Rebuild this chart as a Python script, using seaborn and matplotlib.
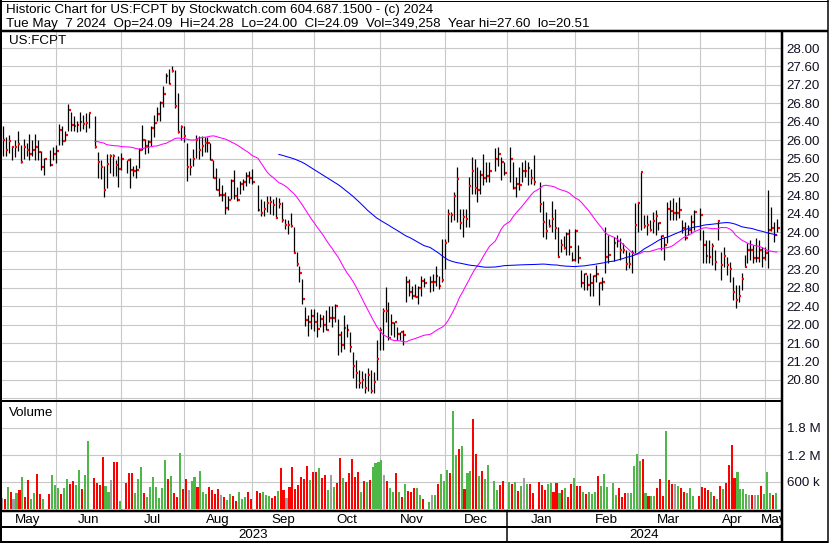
import numpy as np
import pandas as pd
import matplotlib
matplotlib.use("Agg")
import matplotlib.pyplot as plt
import seaborn as sns
from matplotlib.lines import Line2D

# ---------------- data ----------------
first_day = "2023-05-05"
last_day = "2024-05-07"
holidays = ["2023-05-29", "2023-06-19", "2023-07-04", "2023-09-04", "2023-11-23",
            "2023-12-25", "2024-01-01", "2024-01-15", "2024-02-19", "2024-03-29"]

high = [
    26.20, 26.30, 26.08, 26.12, 25.88, 26.01, 26.19, 25.90, 26.03, 25.94, 26.14, 26.01, 26.13, 26.01, 25.76, 25.61,
    25.78, 25.85, 25.89, 26.36, 26.30, 26.21, 26.78, 26.62, 26.52, 26.41, 26.62, 26.54, 26.59, 26.59,
    26.53, 25.74, 25.58, 25.43, 25.69, 25.69, 25.69, 25.58, 25.65, 25.72,
    25.58, 25.61, 25.43, 25.47, 25.83, 26.34, 26.03, 26.01, 26.30, 26.55, 26.73, 26.84, 27.17, 27.46, 27.55,
    27.60, 27.53, 27.02, 26.34, 26.30, 25.93, 25.62, 25.81, 26.11, 26.10, 26.10, 26.08, 26.08, 25.94, 25.56,
    25.39, 25.19, 25.03, 24.88, 24.78, 25.16, 25.36, 24.98, 25.12, 25.16, 25.32, 25.34, 25.37,
    25.03, 24.73, 24.69, 24.78, 24.80, 24.73, 24.76, 24.75, 24.65, 24.29, 24.26, 24.41, 24.11,
    23.57, 23.28, 22.99, 22.38, 22.20, 22.34, 22.34, 22.27, 22.23, 22.20, 22.31, 22.41, 22.41, 22.45,
    22.12, 21.87, 22.20, 22.02, 21.84, 21.40, 21.23, 21.02, 21.00, 20.94, 21.05, 21.02, 20.98, 21.67,
    21.95, 22.35, 22.82, 22.50, 22.24, 22.06, 21.95, 21.85, 21.88,
    23.06, 22.99, 22.84, 22.88, 22.84, 23.06, 23.02,
    23.06, 23.10, 23.28, 23.06, 23.86, 23.86, 24.51, 24.44, 24.87, 25.42, 24.51, 24.51, 24.51, 25.20, 25.63,
    25.60, 25.42, 25.35, 25.71, 25.53, 25.53,
    25.82, 25.85, 25.63, 25.53,
    25.85, 25.53, 25.20, 25.42, 25.53, 25.56, 25.53, 25.38, 25.67,
    25.09, 24.69, 24.44, 24.29, 24.69, 24.51, 24.11, 23.86, 23.93, 24.00, 24.08, 23.57, 24.08, 23.73, 23.18,
    23.11, 23.08, 23.11, 23.08, 23.29, 22.93, 23.04, 24.12, 23.94,
    23.91, 23.94, 23.87, 23.76, 23.62, 23.58, 23.62, 24.63, 24.67, 25.32, 24.38, 24.38, 24.27, 24.45, 24.49,
    24.23, 23.94, 23.91, 24.67, 24.70, 24.74, 24.67, 24.77, 24.27, 24.23, 24.16, 24.38, 24.49,
    24.52, 24.05, 23.83, 23.83, 23.76, 23.62, 24.27, 23.58, 23.69, 23.47, 23.36, 23.04, 22.86, 22.86, 23.11,
    23.51, 23.76, 23.83, 23.73, 23.87, 23.83, 23.69, 23.69, 24.92, 24.56, 24.23, 24.28,
]
low = [
    25.80, 25.65, 25.65, 25.72, 25.58, 25.64, 25.76, 25.51, 25.60, 25.65, 25.58, 25.65, 25.58, 25.58, 25.36, 25.24,
    25.45, 25.56, 25.51, 25.90, 25.90, 25.98, 26.21, 26.19, 26.19, 26.17, 26.19, 26.25, 26.17, 26.26,
    25.84, 25.18, 25.15, 24.77, 24.96, 25.29, 25.22, 25.22, 24.98, 25.36,
    25.29, 24.96, 25.22, 25.18, 25.40, 25.79, 25.71, 25.72, 25.87, 26.08, 26.41, 26.41, 26.73, 27.24, 27.22,
    27.49, 26.70, 26.16, 26.01, 25.97, 25.11, 25.25, 25.45, 25.61, 25.59, 25.66, 25.74, 25.74, 25.56, 25.17,
    24.91, 24.80, 24.69, 24.39, 24.49, 24.72, 24.73, 24.69, 24.83, 24.91, 25.01, 25.07, 25.05,
    24.47, 24.36, 24.36, 24.44, 24.40, 24.38, 24.31, 24.54, 24.23, 24.08, 23.97, 24.11, 23.56,
    23.28, 22.92, 22.45, 21.98, 21.76, 21.91, 21.87, 21.73, 21.95, 21.84, 21.89, 22.05, 21.95, 22.05,
    21.33, 21.40, 21.48, 21.73, 21.40, 20.85, 20.62, 20.62, 20.62, 20.51, 20.55, 20.51, 20.51, 20.80,
    21.45, 21.45, 22.06, 21.67, 21.77, 21.74, 21.67, 21.67, 21.56,
    22.48, 22.63, 22.55, 22.59, 22.44, 22.63, 22.81,
    22.70, 22.73, 22.84, 22.77, 22.92, 23.21, 23.79, 24.22, 24.26, 24.22, 24.08, 23.89, 24.11, 24.11, 24.84,
    24.84, 24.66, 24.84, 25.02, 25.09, 25.09,
    25.34, 25.45, 25.13, 25.24,
    25.09, 24.95, 24.76, 24.91, 25.09, 25.20, 25.02, 25.05, 25.02,
    24.44, 23.89, 23.86, 24.11, 24.00, 23.86, 23.46, 23.57, 23.64, 23.50, 23.50, 23.39, 23.39, 23.33, 22.82,
    22.75, 22.75, 22.61, 22.61, 22.93, 22.43, 22.75, 23.11, 23.33,
    23.37, 23.69, 23.40, 23.55, 23.18, 23.22, 23.11, 23.55, 24.00, 24.05, 24.09, 23.94, 24.02, 23.98, 23.94,
    24.05, 23.62, 23.40, 23.76, 24.27, 24.27, 24.27, 24.31, 23.98, 23.83, 23.94, 23.98, 24.05,
    23.83, 23.33, 23.33, 23.33, 23.29, 23.18, 23.83, 22.97, 23.26, 23.08, 22.93, 22.53, 22.35, 22.50, 22.75,
    23.26, 23.33, 23.40, 23.33, 23.36, 23.36, 23.26, 23.40, 23.22, 24.02, 23.80, 24.00,
]
close = [
    26.01, 26.01, 25.78, 25.98, 25.85, 25.85, 25.91, 25.52, 25.85, 25.78, 25.69, 25.79, 25.85, 25.74, 25.41, 25.59,
    25.47, 25.69, 25.76, 26.23, 25.98, 26.12, 26.65, 26.34, 26.31, 26.34, 26.40, 26.35, 26.37, 26.59,
    25.85, 25.52, 25.41, 24.93, 25.49, 25.66, 25.66, 25.47, 25.38, 25.60,
    25.56, 25.35, 25.33, 25.36, 25.79, 26.01, 25.87, 25.96, 26.26, 26.37, 26.57, 26.81, 27.00, 27.40, 27.22,
    27.51, 26.75, 26.17, 26.28, 26.10, 25.42, 25.42, 25.59, 26.01, 25.79, 25.88, 25.93, 25.94, 25.56, 25.19,
    24.93, 24.82, 24.82, 24.53, 24.71, 25.12, 24.78, 24.71, 25.05, 25.10, 25.23, 25.17, 25.10,
    24.49, 24.41, 24.51, 24.64, 24.67, 24.59, 24.31, 24.62, 24.26, 24.15, 24.15, 24.13, 23.56,
    23.32, 23.12, 22.55, 22.10, 22.05, 22.18, 22.05, 21.91, 22.12, 22.00, 21.89, 22.15, 22.15, 22.41,
    21.78, 21.55, 21.92, 21.89, 21.51, 21.10, 20.96, 20.74, 20.80, 20.62, 20.91, 20.57, 20.76, 21.26,
    21.88, 22.30, 22.30, 21.72, 22.04, 22.06, 21.80, 21.83, 21.77,
    22.93, 22.70, 22.63, 22.60, 22.80, 22.95, 22.90,
    22.93, 22.93, 23.06, 22.84, 22.97, 23.77, 24.40, 24.37, 24.80, 25.15, 24.21, 24.34, 24.28, 25.00, 25.34,
    24.97, 24.91, 25.25, 25.18, 25.22, 25.34,
    25.60, 25.71, 25.52, 25.29,
    25.60, 24.97, 25.05, 25.02, 25.34, 25.34, 25.40, 25.18, 25.10,
    24.62, 24.23, 24.02, 24.13, 24.28, 24.09, 23.47, 23.73, 23.67, 23.97, 23.68, 23.41, 24.02, 23.45, 22.91,
    23.09, 22.86, 22.91, 23.05, 23.10, 22.90, 22.93, 23.47, 23.51,
    23.76, 23.82, 23.62, 23.61, 23.32, 23.32, 23.55, 24.15, 24.64, 25.30, 24.14, 24.16, 24.05, 24.25, 24.36,
    24.21, 23.92, 23.73, 24.51, 24.46, 24.43, 24.43, 24.49, 24.09, 23.88, 24.05, 24.23, 24.45,
    24.38, 23.73, 23.49, 23.47, 23.70, 23.36, 24.25, 23.29, 23.49, 23.29, 23.21, 22.71, 22.53, 22.63, 22.99,
    23.26, 23.62, 23.62, 23.44, 23.44, 23.62, 23.44, 23.55, 24.05, 24.10, 23.94, 24.09,
]
volume_m = [
    0.40, 0.25, 0.22, 0.49, 0.38, 0.22, 0.36, 0.42, 0.71, 0.27, 0.64, 0.22, 0.36, 0.78, 0.33, 0.22,
    0.33, 0.76, 0.53, 0.47, 0.33, 0.47, 0.67, 0.56, 0.62, 0.53, 0.87, 0.44, 0.76, 1.51,
    0.69, 0.58, 0.53, 1.16, 0.51, 0.38, 0.64, 1.04, 1.04, 0.18,
    0.58, 0.80, 0.80, 0.36, 0.67, 0.93, 0.36, 0.27, 0.49, 0.71, 0.49, 0.24, 0.47, 1.09, 0.67,
    0.73, 0.36, 0.27, 1.24, 0.44, 0.67, 0.42, 0.62, 0.71, 0.50, 0.84, 0.38, 0.33, 0.49, 0.42,
    0.33, 0.44, 0.31, 0.27, 0.20, 0.33, 0.29, 0.18, 0.38, 0.22, 0.27, 0.38, 0.22,
    0.40, 0.36, 0.38, 0.31, 0.29, 0.24, 0.29, 0.40, 0.91, 0.42, 0.24, 0.49, 0.93,
    0.44, 0.53, 0.71, 0.67, 0.96, 0.64, 0.82, 0.82, 0.91, 0.69, 0.76, 0.42, 0.76, 0.49,
    0.58, 1.13, 0.69, 0.60, 0.80, 1.11, 0.71, 0.82, 0.38, 0.62, 0.60, 0.64, 0.93, 1.02,
    1.04, 1.09, 0.76, 0.62, 0.47, 0.38, 0.80, 0.38, 0.27,
    0.56, 0.40, 0.38, 0.47, 0.47, 0.31, 0.22,
    0.16, 0.31, 0.31, 0.56, 0.78, 0.62, 0.87, 0.80, 2.18, 1.20, 1.33, 1.40, 0.44, 0.80, 0.84,
    2.00, 1.22, 0.73, 0.84, 0.67, 0.98,
    0.62, 0.42, 0.53, 0.62,
    0.60, 0.56, 0.60, 0.40, 0.51, 0.69, 0.56, 0.56, 0.36,
    0.60, 0.53, 0.42, 0.56, 0.58, 0.38, 0.58, 0.36, 0.42, 0.47, 0.27, 0.56, 0.69, 0.51, 0.51,
    0.38, 0.33, 0.38, 0.33, 0.38, 0.73, 0.51, 0.78, 0.49,
    0.57, 0.31, 0.47, 0.27, 0.36, 0.36, 0.36, 0.96, 1.22, 1.07, 1.11, 0.36, 0.29, 0.29, 0.29,
    0.47, 0.67, 0.29, 1.73, 0.64, 0.56, 0.56, 0.51, 0.47, 0.38, 0.36, 0.47, 0.29,
    0.29, 0.49, 0.47, 0.42, 0.38, 0.29, 0.22, 0.51, 0.44, 0.58, 0.98, 1.42, 0.69, 0.82, 0.44,
    0.44, 0.33, 0.31, 0.31, 0.31, 0.31, 0.51, 0.33, 0.82, 0.36, 0.31, 0.349258,
]
price_ticks = [20.80, 21.20, 21.60, 22.00, 22.40, 22.80, 23.20, 23.60, 24.00, 24.40,
               24.80, 25.20, 25.60, 26.00, 26.40, 26.80, 27.20, 27.60, 28.00]
price_grid = price_ticks + [20.40]
vol_ticks = [0.6, 1.2, 1.8]
vol_tick_labels = ["600 k", "1.2 M", "1.8 M"]
title_line1 = "Historic Chart for US:FCPT by Stockwatch.com 604.687.1500 - (c) 2024"
title_line2 = ("Tue May  7 2024  Op=24.09  Hi=24.28  Lo=24.00  Cl=24.09  "
               "Vol=349,258  Year hi=27.60  lo=20.51")
symbol = "US:FCPT"

# ---------------- frame ----------------
sns.set_theme(style="white")
plt.rcParams['font.family'] = ['Liberation Sans', 'DejaVu Sans']

GREEN, RED, GRAY = "#4db848", "#ff0000", "#a0a0a0"
GRIDC = "#c8c8c8"
FS = 9.6

slots = pd.bdate_range(first_day, last_day)
hol = pd.to_datetime(holidays)
trade_dates = slots[~slots.isin(hol)]
slot_pos = pd.Series(np.arange(len(slots)), index=slots)

df = pd.DataFrame({"date": trade_dates, "high": high, "low": low,
                   "close": close, "vol": volume_m})
df["slot"] = slot_pos.loc[trade_dates].values.astype(float)
df["ma_short"] = df["close"].rolling(30).mean().shift(1)
df["ma_long"] = df["close"].rolling(90).mean().shift(1)
chg = df["close"].diff().round(4).fillna(0)
df["vcol"] = np.where(chg > 0, GREEN, np.where(chg < 0, RED, GRAY))

W, H = 830, 543
PX0, PXS = -0.2, 2.967            # slot -> pixel mapping
XR = 781                           # right edge of plot panels
xlim = ((0 - PX0) / PXS, (XR - PX0) / PXS)

fig = plt.figure(figsize=(W / 100, H / 100), dpi=100)
fig.patch.set_facecolor("white")


def rect(x0, y0, x1, y1):
    return [x0 / W, 1 - y1 / H, (x1 - x0) / W, (y1 - y0) / H]


# month boundaries
month_start = [i for i in range(1, len(slots)) if slots[i].month != slots[i - 1].month]
bounds = [xlim[0]] + month_start + [xlim[1]]
month_centers = [(bounds[i] + bounds[i + 1]) / 2 for i in range(len(bounds) - 1)]
month_names = [slots[0].strftime("%b")] + [slots[i].strftime("%b") for i in month_start]
jan_slot = [i for i in month_start if slots[i].month == 1][0]

# ---------------- price panel ----------------
ax_p = fig.add_axes(rect(0, 32, XR, 400))
p_top = 28.0 + (48 - 32) / 46.1
p_bot = 28.0 - (400 - 48) / 46.1
ax_p.set_xlim(*xlim)
ax_p.set_ylim(p_bot, p_top)
for v in price_grid:
    ax_p.axhline(v, color=GRIDC, lw=0.8, zorder=0)
for s in month_start:
    ax_p.axvline(s, color=GRIDC, lw=0.8, zorder=0)

ax_p.vlines(df["slot"], df["low"], df["high"], color="black", lw=0.9, zorder=2)
ax_p.hlines(df["close"], df["slot"] + 0.2, df["slot"] + 0.85, color=RED, lw=1.6, zorder=3)
sns.lineplot(x=df["slot"], y=df["ma_short"], ax=ax_p, color="#ff00ff", lw=0.75,
             zorder=4, legend=False)
sns.lineplot(x=df["slot"], y=df["ma_long"], ax=ax_p, color="#0000ff", lw=0.75,
             zorder=4, legend=False)
ax_p.set_xlabel("")
ax_p.set_ylabel("")
ax_p.set_xticks([])
ax_p.yaxis.tick_right()
ax_p.set_yticks(price_ticks)
ax_p.set_yticklabels([f"{v:.2f}" for v in price_ticks])
ax_p.tick_params(axis="y", length=0, pad=4.2, labelsize=FS, labelcolor="#111122")
for sp in ax_p.spines.values():
    sp.set_visible(False)
ax_p.text(9 / XR, 1 - (41.5 - 32) / 368, symbol, transform=ax_p.transAxes,
          fontsize=FS, va="center", ha="left", color="black")

# ---------------- volume panel ----------------
ax_v = fig.add_axes(rect(0, 402, XR, 510))
v_per_px = 1.8 / (509 - 428)
ax_v.set_xlim(*xlim)
ax_v.set_ylim(-(510 - 509) * v_per_px, (509 - 402) * v_per_px)
for v in vol_ticks:
    ax_v.axhline(v, color=GRIDC, lw=0.8, zorder=0)
for s in month_start:
    ax_v.axvline(s, color=GRIDC, lw=0.8, zorder=0)
ax_v.bar(df["slot"] - 0.37, df["vol"], width=0.7, bottom=0, color=df["vcol"],
         linewidth=0, zorder=2)
ax_v.set_xticks([])
ax_v.yaxis.tick_right()
ax_v.set_yticks(vol_ticks)
ax_v.set_yticklabels(vol_tick_labels)
ax_v.tick_params(axis="y", length=0, pad=4.2, labelsize=FS, labelcolor="#111122")
for sp in ax_v.spines.values():
    sp.set_visible(False)
ax_v.text(9 / XR, 1 - (413 - 402) / 108, "Volume", transform=ax_v.transAxes,
          fontsize=FS, va="center", ha="left", color="black")

# ---------------- month / year rows ----------------
ax_m = fig.add_axes(rect(0, 511, XR, 527))
ax_m.set_xlim(*xlim)
ax_m.set_ylim(0, 1)
ax_m.axis("off")
for c, name in zip(month_centers, month_names):
    ax_m.text(c, 0.45, name, ha="center", va="center", fontsize=FS, color="black",
              clip_on=True)

ax_y = fig.add_axes(rect(0, 528, XR, 541))
ax_y.set_xlim(*xlim)
ax_y.set_ylim(0, 1)
ax_y.axis("off")
ax_y.text((xlim[0] + jan_slot) / 2, 0.45, str(slots[0].year), ha="center", va="center",
          fontsize=FS, color="black")
ax_y.text((jan_slot + xlim[1]) / 2, 0.45, str(slots[-1].year), ha="center", va="center",
          fontsize=FS, color="black")

# ---------------- header ----------------
fig.text(6 / W, 1 - 9.5 / H, title_line1, fontsize=FS, va="center", ha="left", color="black")
fig.text(6 / W, 1 - 23.5 / H, title_line2, fontsize=FS, va="center", ha="left", color="black")

# ---------------- frame lines (pixel overlay) ----------------
ov = fig.add_axes([0, 0, 1, 1], zorder=10)
ov.set_xlim(0, W)
ov.set_ylim(H, 0)
ov.axis("off")
ov.patch.set_alpha(0)
jan_px = PX0 + PXS * jan_slot


def seg(x0, y0, x1, y1, w):
    ov.add_line(Line2D([x0, x1], [y0, y1], color="black", lw=w * 0.72,
                       solid_capstyle="butt"))


seg(0, 0.5, 828, 0.5, 1)
seg(1, 0, 1, 543, 2)
seg(827.5, 0, 827.5, 543, 1.5)
seg(0, 31, 828, 31, 2.5)
seg(781.5, 31, 781.5, 543, 2.5)
seg(0, 401, 781, 401, 2)
seg(0, 510.5, 781, 510.5, 2.5)
seg(0, 527, 781, 527, 2)
seg(0, 541.5, 828, 541.5, 2)
seg(jan_px, 510, jan_px, 541, 1.5)

fig.savefig("out.png", dpi=100, facecolor="white")
